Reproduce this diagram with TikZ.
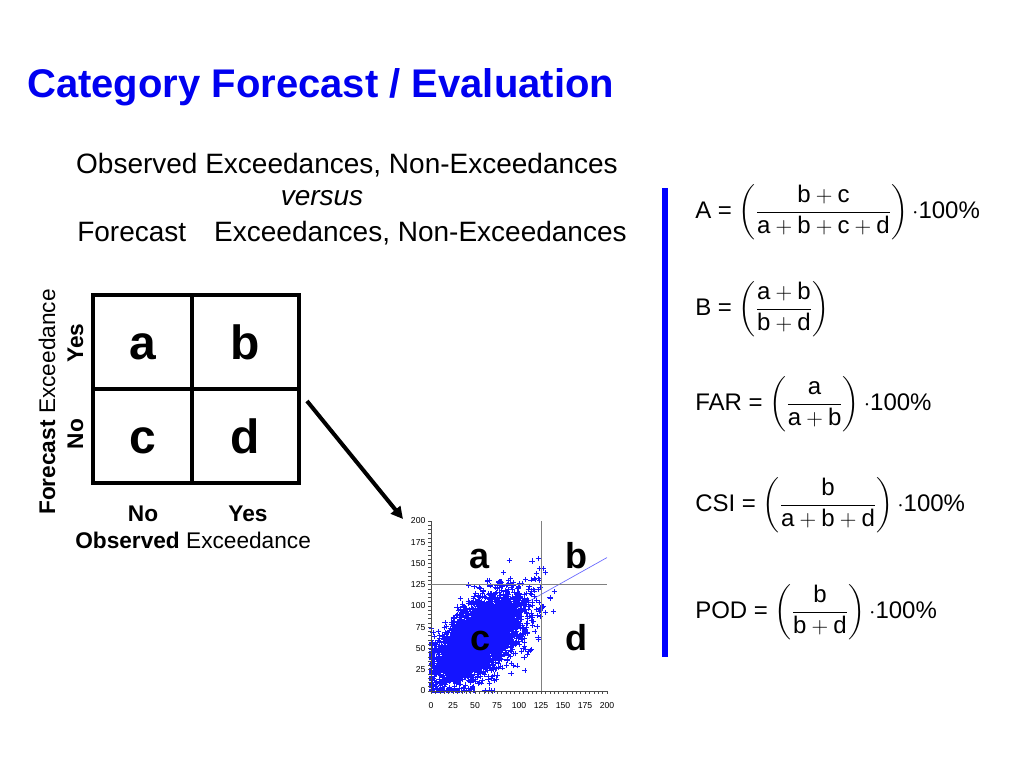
\documentclass[tikz,border=0pt]{standalone}
\usepackage{fontspec}
\setmainfont{Liberation Sans}
\usepackage{amsmath}
\usetikzlibrary{arrows.meta}
\definecolor{titleblue}{RGB}{0,0,240}
\definecolor{ptblue}{RGB}{20,20,255}
\newcommand{\fsz}[1]{\fontsize{#1}{#1}\selectfont}

\begin{document}
\begin{tikzpicture}[x=0.75pt,y=-0.75pt,
    cell/.style={draw,line width=2.3pt,inner sep=0pt,minimum height=70.5pt,text height=26pt,text depth=0pt,font=\fsz{36pt}\bfseries},
    lbl/.style={inner sep=0pt,font=\fsz{17pt}},
    formula/.style={anchor=base west,inner sep=0pt,font=\fsz{18pt}},
    sublbl/.style={anchor=base,inner sep=0pt,font=\fsz{21pt}},
    plotletter/.style={anchor=base,inner sep=0pt,font=\fsz{27pt}\bfseries},
    pt/.style={ptblue,line width=0.45pt},
    tick/.style={line width=0.4pt,black!70}]
	\useasboundingbox[fill=white] (0,0) rectangle (1024,768);
	% title and heading
	\node[anchor=base west,inner sep=0pt,text=titleblue,font=\fsz{30pt}\bfseries] (title) at (27,97) {Category Forecast / Evaluation};
	\node[sublbl] (obs) at (347,173) {Observed Exceedances, Non-Exceedances};
	\node[sublbl] (vs) at (322,205) {\itshape versus};
	\node[sublbl] (fc) at (352,241) {Forecast\quad Exceedances, Non-Exceedances};
	% contingency table
	\node[cell,minimum width=74.25pt] (a) at (142.5,342) {a};
	\node[cell,minimum width=80.25pt] (b) at (245.5,342) {b};
	\node[cell,minimum width=74.25pt] (c) at (142.5,436) {c};
	\node[cell,minimum width=80.25pt] (d) at (245.5,436) {d};
	\node[lbl,rotate=90,anchor=base west] (fclbl) at (55,515) {\textbf{Forecast} Exceedance};
	\node[lbl,rotate=90,anchor=base,font=\fsz{17pt}\bfseries] (fyes) at (83,343) {Yes};
	\node[lbl,rotate=90,anchor=base,font=\fsz{17pt}\bfseries] (fno) at (83,434) {No};
	\node[lbl,anchor=base,font=\fsz{17pt}\bfseries] (ono) at (143,521) {No};
	\node[lbl,anchor=base,font=\fsz{17pt}\bfseries] (oyes) at (248,521) {Yes};
	\node[lbl,anchor=base west] (oblbl) at (75,548) {\textbf{Observed} Exceedance};
	% arrow to the scatter plot
	\coordinate (tail) at (307,401);
	\coordinate (tip) at (403,519);
	\draw[line width=3pt,-{Triangle[length=9pt,width=9pt]}] (tail) -- (tip);
	% scatter plot
	\begin{scope}[shift={(431,691)},xscale=0.88,yscale=-0.85]
		\draw[blue!60,line width=0.5pt] (0,41) -- (200,157);
		\begin{scope}
			\clip (-2,-2) rectangle (202,202);
			\pgfmathsetseed{7}
			% dense core
			\foreach \i in {1,...,3800}{
				\pgfmathsetmacro\ra{sqrt(-2*ln(0.001+0.998*rnd))}
				\pgfmathsetmacro\th{360*rnd}
				\pgfmathsetmacro\px{max(0,54+24*\ra*cos(\th))}
				\pgfmathsetmacro\py{max(0,61+15*\ra*cos(\th)+20*\ra*sin(\th))}
				\draw[pt] (\px,\py) +(-3,0) -- +(3,0) +(0,-3) -- +(0,3);
			}
			% loose outliers
			\foreach \i in {1,...,500}{
				\pgfmathsetmacro\ra{sqrt(-2*ln(0.001+0.998*rnd))}
				\pgfmathsetmacro\th{360*rnd}
				\pgfmathsetmacro\px{max(0,58+34*\ra*cos(\th))}
				\pgfmathsetmacro\py{max(0,63+22*\ra*cos(\th)+27*\ra*sin(\th))}
				\draw[pt] (\px,\py) +(-3,0) -- +(3,0) +(0,-3) -- +(0,3);
			}
		\end{scope}
		\draw[tick] (0,0) -- (0,200);
		\draw[tick] (0,0) -- (200,0);
		\draw[tick,gray] (125,0) -- (125,200);
		\draw[tick,gray] (0,125) -- (200,125);
		\foreach \t in {0,5,...,200}{
			\draw[tick] (\t,0) -- (\t,-3);
			\draw[tick] (0,\t) -- (-3,\t);
		}
		\foreach \t in {0,25,...,200}{
			\node[inner sep=0pt,font=\fsz{6.5pt}] (xl\t) at (\t,-17) {\t};
			\node[inner sep=0pt,anchor=east,font=\fsz{6.5pt}] (yl\t) at (-6,\t) {\t};
		}
	\end{scope}
	\node[plotletter] (pa) at (480,568) {a};
	\node[plotletter] (pb) at (576,568) {b};
	\node[plotletter] (pc) at (481,650) {c};
	\node[plotletter] (pd) at (576,650) {d};
	% divider
	\draw[line width=3.8pt,blue] (665,188) -- (665,657);
	% scores
	\node[formula] (fA) at (695,218) {A = $\left(\dfrac{\text{b} + \text{c}}{\text{a} + \text{b} + \text{c} + \text{d}}\right)\cdot$100\%};
	\node[formula] (fB) at (695,315) {B = $\left(\dfrac{\text{a} + \text{b}}{\text{b} + \text{d}}\right)$};
	\node[formula] (fFAR) at (695,410) {FAR = $\left(\dfrac{\text{a}}{\text{a} + \text{b}}\right)\cdot$100\%};
	\node[formula] (fCSI) at (695,511) {CSI = $\left(\dfrac{\text{b}}{\text{a} + \text{b} + \text{d}}\right)\cdot$100\%};
	\node[formula] (fPOD) at (695,618) {POD = $\left(\dfrac{\text{b}}{\text{b} + \text{d}}\right)\cdot$100\%};
\end{tikzpicture}
\end{document}
